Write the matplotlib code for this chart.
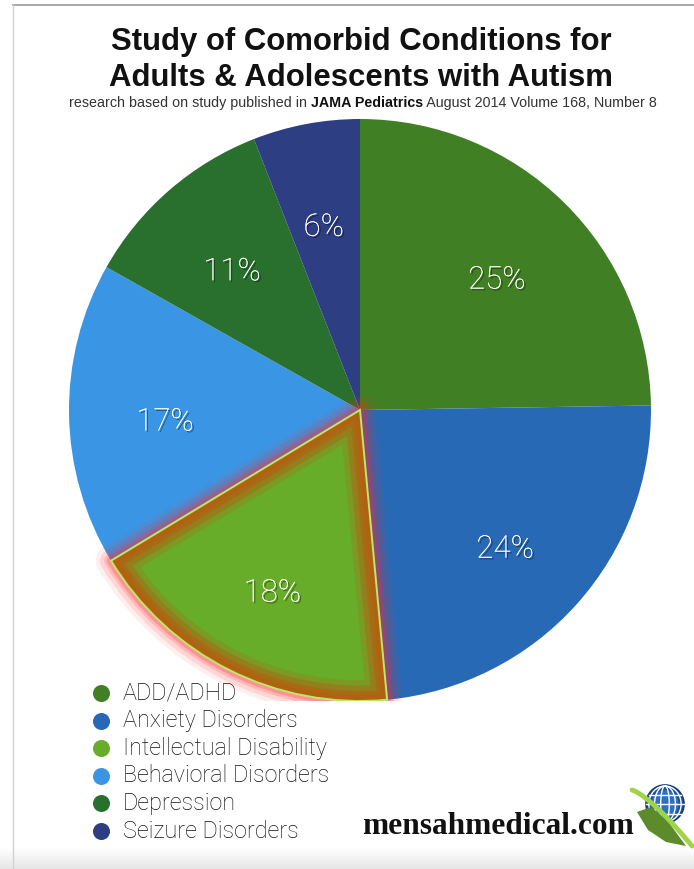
import numpy as np
import matplotlib

matplotlib.use("Agg")
import matplotlib.pyplot as plt
import matplotlib.patheffects as pe
from matplotlib.patches import Wedge, Circle, Ellipse, Polygon

# data (percent labels as printed; they sum to 101)
categories = [
    "ADD/ADHD",
    "Anxiety Disorders",
    "Intellectual Disability",
    "Behavioral Disorders",
    "Depression",
    "Seizure Disorders",
]
shares = [25, 24, 18, 17, 11, 6]
pct_labels = ["25%", "24%", "18%", "17%", "11%", "6%"]
colors = ["#417f24", "#2869b5", "#68ad2a", "#3a96e4", "#29702e", "#2d3e82"]
highlight = 2  # the selected wedge (Intellectual Disability)

W, H = 694, 869
fig = plt.figure(figsize=(W / 100, H / 100), dpi=100)
fig.patch.set_facecolor("white")

# overlay axes in pixel coordinates (y down)
ov = fig.add_axes([0, 0, 1, 1])
ov.set_xlim(0, W)
ov.set_ylim(H, 0)
ov.axis("off")

# light grey fade at the bottom
grad = np.linspace(0, 1, 64).reshape(-1, 1)
fade = matplotlib.colors.LinearSegmentedColormap.from_list("fade", ["#ffffff", "#e6e6e6"])
ov.imshow(grad, extent=(0, W, H, 848), cmap=fade, aspect="auto", zorder=0)
ov.set_xlim(0, W)
ov.set_ylim(H, 0)
ov.plot([13, W], [5, 5], color="#9a9a9a", lw=1.2, zorder=1)
ov.plot([13, 13], [5, H], color="#d2d2d2", lw=1.0, zorder=1)

# pie axes: centre (360, 410) px, radius 291 px
cx, cy, r = 360, 410, 291
pax = fig.add_axes([(cx - r) / W, (H - cy - r) / H, 2 * r / W, 2 * r / H])

wedges, texts = pax.pie(
    shares,
    colors=colors,
    labels=pct_labels,
    labeldistance=0.67,
    startangle=90,
    counterclock=False,
    radius=1.0,
    wedgeprops=dict(linewidth=0),
    textprops=dict(color="white", fontsize=22.5, family=["Roboto", "DejaVu Sans"],
                   fontweight="light", ha="center", va="center"),
)
pax.set_xlim(-1, 1)
pax.set_ylim(-1, 1)
pax.axis("off")
for t in texts:
    tx, ty = t.get_position()
    t.set_position((tx, ty - 9 / r))  # labels sit a little lower in the original
    t.set_horizontalalignment("center")
    t.set_zorder(10)
    t.set_path_effects([pe.withSimplePatchShadow(offset=(1.2, -1.2), shadow_rgbFace="black", alpha=0.45),
                        pe.Normal()])

# selection highlight on one wedge
w = wedges[highlight]


def twin(**kw):
    p = Wedge(w.center, w.r, w.theta1, w.theta2, **kw)
    pax.add_patch(p)
    return p


for lw, a in [(22, 0.08), (16, 0.12), (10, 0.18), (6, 0.25)]:
    twin(facecolor="none", edgecolor="#ff2a2a", lw=lw, alpha=a, zorder=4, joinstyle="round")
for lw, a in [(30, 0.25), (22, 0.35), (14, 0.55), (8, 0.8)]:
    p = twin(facecolor="none", edgecolor="#b1620f", lw=lw, alpha=a, zorder=5, joinstyle="miter")
    p.set_clip_path(Wedge(w.center, w.r, w.theta1, w.theta2, transform=pax.transData))
twin(facecolor="none", edgecolor="#b8ea6c", lw=1.4, zorder=6, joinstyle="miter")

# title block
for yy, line in [(42, "Study of Comorbid Conditions for"), (78, "Adults & Adolescents with Autism")]:
    ov.text(361, yy, line, ha="center", va="center",
            fontsize=22.4, fontweight="bold", family="Liberation Sans", color="#111111")

sub_parts = [
    ("research based on study published in ", "normal"),
    ("JAMA Pediatrics", "bold"),
    (" August 2014 Volume 168, Number 8", "normal"),
]
fig.canvas.draw()
renderer = fig.canvas.get_renderer()
sub_size = 11.0
pieces = []
for s, wt in sub_parts:
    t = ov.text(0, 103, s, fontsize=sub_size, fontweight=wt, family="Liberation Sans",
                color="#333333" if wt == "normal" else "#111111", va="center", ha="left")
    pieces.append(t)
total = sum(t.get_window_extent(renderer).width for t in pieces)
scale = 583.0 / total
for t in pieces:
    t.set_fontsize(sub_size * scale)
widths = [t.get_window_extent(renderer).width for t in pieces]
x = 363 - sum(widths) / 2
for t, wd in zip(pieces, widths):
    t.set_x(x)
    x += wd

# legend
for i, (name, col) in enumerate(zip(categories, colors)):
    yy = 693 + i * 27.6
    ov.scatter([101], [yy], s=150, color=col, zorder=8, linewidths=0)
    ov.text(123, yy, name, fontsize=16.8, family=["Roboto", "DejaVu Sans"], fontweight="light",
            color="#111111", va="center", ha="left", zorder=8)

# logo
ov.text(362, 827, "mensahmedical.com", fontsize=22.6, fontweight="bold", family="Liberation Serif",
        color="#111111", va="center", ha="left", zorder=8)
gx, gy, gr = 665, 804, 19
ov.add_patch(Circle((gx, gy), gr, facecolor="#1b4f9e", edgecolor="#123a7a", lw=1.2, zorder=8))
ov.add_patch(Circle((gx, gy), gr * 0.72, facecolor="#2c6fc4", edgecolor="none", zorder=8))
for ew in [0.45, 1.1, 1.7]:
    ov.add_patch(Ellipse((gx, gy), gr * ew, gr * 2 - 2, facecolor="none", edgecolor="white", lw=1.0, zorder=9))
for k in [-0.5, 0.0, 0.5]:
    half = np.sqrt(1 - k ** 2) * gr
    ov.plot([gx - half, gx + half], [gy + k * gr, gy + k * gr], color="white", lw=1.0, zorder=9)
ov.add_patch(Polygon([(637, 812), (651, 807), (667, 820), (686, 846), (666, 842), (648, 830)],
                     closed=True, facecolor="#5d8a2a", edgecolor="none", zorder=10))
tt = np.linspace(0, 1, 30)
ov.plot(632 + 60 * tt, 790 + 56 * tt ** 1.3, color="#9ed34a", lw=3.5, zorder=11, solid_capstyle="round")

fig.savefig("out.png", dpi=100)
